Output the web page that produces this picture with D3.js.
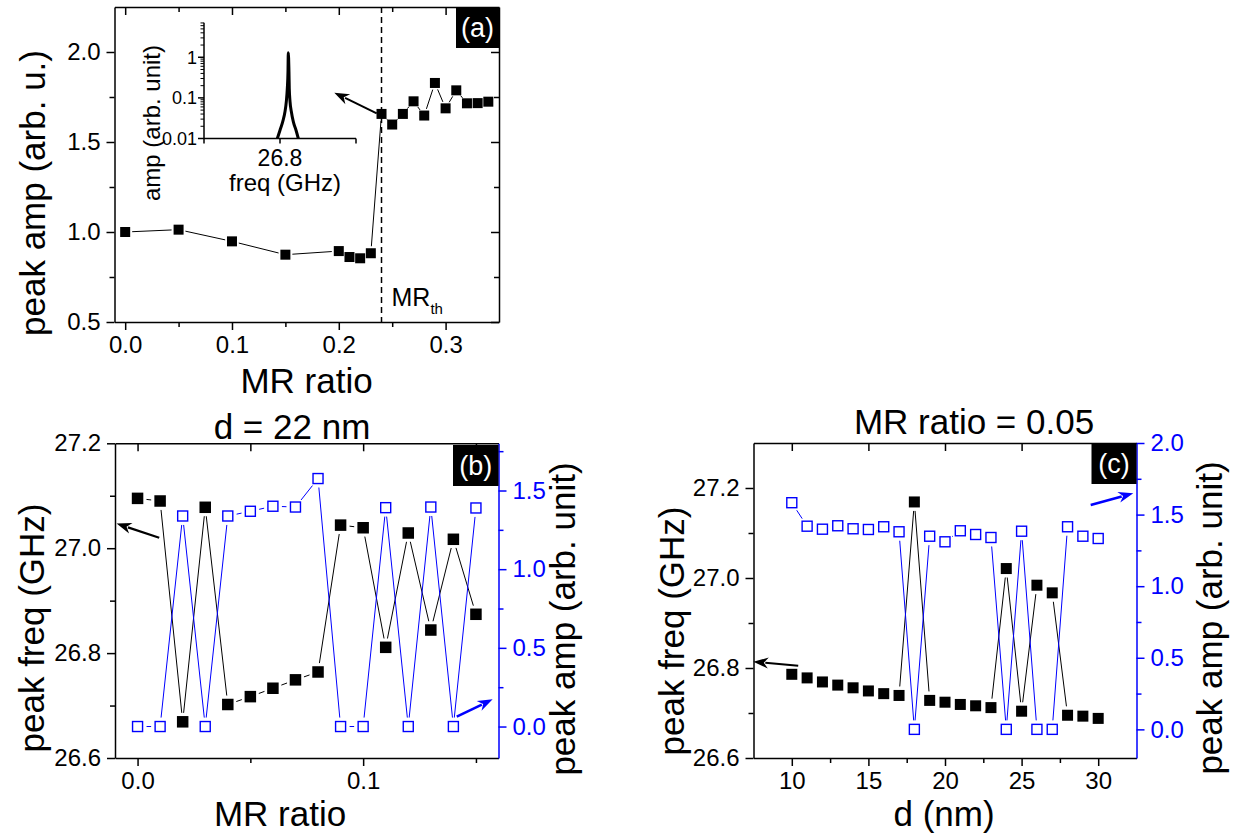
<!DOCTYPE html>
<html><head><meta charset="utf-8">
<script src="https://cdn.jsdelivr.net/npm/d3@7"></script>
<style>
body{margin:0;background:#fff}
text{font-family:"Liberation Sans",Arial,Helvetica,sans-serif}
</style>
</head><body>
<svg id="chart" width="1245" height="834" xmlns="http://www.w3.org/2000/svg"></svg>
<script>
// ---------------- DATA ----------------
// panel (a): peak amplitude vs MR ratio
const aMR  = [0, 0.05, 0.10, 0.15, 0.20, 0.21, 0.22, 0.23, 0.24, 0.25, 0.26, 0.27, 0.28, 0.29, 0.30, 0.31, 0.32, 0.33, 0.34];
const aAmp = [1.000, 1.013, 0.948, 0.874, 0.894, 0.861, 0.854, 0.882, 1.656, 1.597, 1.656, 1.726, 1.647, 1.828, 1.687, 1.787, 1.715, 1.716, 1.724];
const aThreshold = 0.24;
// inset of (a): spectrum
const insetFreq = [26.7965, 26.8000, 26.8036, 26.8066, 26.8083, 26.8096, 26.8105, 26.8109, 26.8118, 26.8122, 26.8132, 26.8149, 26.8175, 26.8211, 26.8241];
const insetAmp  = [0.010, 0.016, 0.026, 0.046, 0.081, 0.170, 0.440, 1.300, 0.440, 0.170, 0.081, 0.046, 0.026, 0.016, 0.010];
// panel (b): d = 22 nm
const bMR   = [0, 0.01, 0.02, 0.03, 0.04, 0.05, 0.06, 0.07, 0.08, 0.09, 0.10, 0.11, 0.12, 0.13, 0.14, 0.15];
const bFreq = [27.095, 27.090, 26.669, 27.078, 26.702, 26.717, 26.733, 26.749, 26.764, 27.044, 27.039, 26.811, 27.029, 26.844, 27.017, 26.874];
const bAmp  = [0.00, 0.00, 1.338, 0.00, 1.338, 1.368, 1.400, 1.395, 1.576, 0.00, 0.00, 1.391, 0.00, 1.395, 0.00, 1.389];
// panel (c): MR ratio = 0.05
const cD    = [10, 11, 12, 13, 14, 15, 16, 17, 18, 19, 20, 21, 22, 23, 24, 25, 26, 27, 28, 29, 30];
const cFreq = [26.786, 26.778, 26.769, 26.762, 26.756, 26.749, 26.743, 26.739, 27.169, 26.728, 26.724, 26.719, 26.716, 26.712, 27.021, 26.704, 26.984, 26.967, 26.695, 26.693, 26.688];
const cAmp  = [1.583, 1.419, 1.398, 1.422, 1.401, 1.396, 1.415, 1.380, 0.00, 1.349, 1.310, 1.387, 1.361, 1.340, 0.00, 1.384, 0.00, 0.00, 1.415, 1.349, 1.333];

// tick values / labels
const aXMajor = [0, 0.1, 0.2, 0.3], aXMinor = [0.05, 0.15, 0.25];
const aYMajor = [0.5, 1.0, 1.5, 2.0], aYMinor = [0.75, 1.25, 1.75];
const insetYMajor = [0.01, 0.1, 1], insetYLabels = ["0.01", "0.1", "1"];
const insetYMinor = [0.02,0.03,0.04,0.05,0.06,0.07,0.08,0.09,0.2,0.3,0.4,0.5,0.6,0.7,0.8,0.9,2,3,4,5,6,7];
const insetXTicks = [26.7, 26.8, 26.9], insetXLabel = "26.8";
const bXMajor = [0, 0.1], bXMinor = [0.05, 0.15];
const bYMajor = [26.6, 26.8, 27.0, 27.2], bYMinor = [26.7, 26.9, 27.1];
const bY2Major = [0, 0.5, 1.0, 1.5], bY2Minor = [0.25, 0.75, 1.25, 1.75];
const cXMajor = [10, 15, 20, 25, 30], cXMinor = [12.5, 17.5, 22.5, 27.5];
const cYMajor = [26.6, 26.8, 27.0, 27.2], cYMinor = [26.7, 26.9, 27.1];
const cY2Major = [0, 0.5, 1.0, 1.5, 2.0], cY2Minor = [0.25, 0.75, 1.25, 1.75];

// annotation arrows in data coordinates [x1,y1,x2,y2] (tail -> head)
const aArrow  = [0.2355, 1.659, 0.1958, 1.774];
const bArrowL = [0.0096, 27.020, -0.0093, 27.047];
const bArrowR = [0.1415, 0.0625, 0.1574, 0.173];
const cArrowL = [10.42, 26.805, 7.49, 26.814];
const cArrowR = [29.51, 1.567, 32.29, 1.649];

// ---------------- HELPERS ----------------
const BLUE = "#0000ff";
const svg = d3.select("#chart");
const f1 = d3.format(".1f");

function drawAxis(g, scale, orient, pos, major, minor, fmt, color, inward, labels) {
  const ax = {bottom: d3.axisBottom, top: d3.axisTop, left: d3.axisLeft, right: d3.axisRight}[orient];
  const s = inward ? -1 : 1;
  const tr = (orient === "bottom" || orient === "top") ? `translate(0,${pos})` : `translate(${pos},0)`;
  const gm = g.append("g").attr("transform", tr)
    .call(ax(scale).tickValues(major).tickSizeInner(8 * s).tickSizeOuter(0).tickPadding(6)
      .tickFormat(labels ? fmt : () => ""));
  gm.attr("font-family", null).attr("font-size", null);
  gm.select(".domain").attr("stroke", color).attr("stroke-width", 1.5);
  gm.selectAll(".tick line").attr("stroke", color).attr("stroke-width", 1.5);
  gm.selectAll(".tick text").attr("fill", color).style("font-size", "24px")
    .style("font-family", '"Liberation Sans",Arial,sans-serif');
  if (minor && minor.length) {
    const gn = g.append("g").attr("transform", tr)
      .call(ax(scale).tickValues(minor).tickSizeInner(5 * s).tickSizeOuter(0).tickFormat(() => ""));
    gn.select(".domain").remove();
    gn.selectAll(".tick line").attr("stroke", color).attr("stroke-width", 1.5);
  }
  return gm;
}

function gapLines(g, pts, gap, color) {
  for (let i = 0; i < pts.length - 1; i++) {
    const [x1, y1] = pts[i], [x2, y2] = pts[i + 1];
    const dx = x2 - x1, dy = y2 - y1, d = Math.hypot(dx, dy);
    if (d <= 2 * gap + 0.5) continue;
    const ux = dx / d, uy = dy / d;
    g.append("line")
      .attr("x1", x1 + ux * gap).attr("y1", y1 + uy * gap)
      .attr("x2", x2 - ux * gap).attr("y2", y2 - uy * gap)
      .attr("stroke", color).attr("stroke-width", 1);
  }
}

function squares(g, pts, size, filled, color) {
  g.selectAll(null).data(pts).enter().append("rect")
    .attr("x", d => d[0] - size / 2).attr("y", d => d[1] - size / 2)
    .attr("width", size).attr("height", size)
    .attr("fill", filled ? color : "#fff")
    .attr("stroke", color).attr("stroke-width", filled ? 0 : 1.4);
}

function arrow(g, x1, y1, x2, y2, color, w) {
  const dx = x2 - x1, dy = y2 - y1, d = Math.hypot(dx, dy);
  const ux = dx / d, uy = dy / d, L = 15, W = 5.5;
  g.append("line").attr("x1", x1).attr("y1", y1)
    .attr("x2", x2 - ux * L * 0.8).attr("y2", y2 - uy * L * 0.8)
    .attr("stroke", color).attr("stroke-width", w);
  const bx = x2 - ux * L, by = y2 - uy * L;
  g.append("path")
    .attr("d", `M${x2},${y2}L${bx - uy * W},${by + ux * W}L${x2 - ux * L * 0.7},${y2 - uy * L * 0.7}L${bx + uy * W},${by - ux * W}Z`)
    .attr("fill", color);
}

function labelBox(g, x, y, w, h, txt) {
  g.append("rect").attr("x", x).attr("y", y).attr("width", w).attr("height", h).attr("fill", "#000");
  g.append("text").attr("x", x + w / 2).attr("y", y + h / 2 + 9.5).attr("text-anchor", "middle")
    .attr("fill", "#fff").style("font-size", "27px").text(txt);
}

function vText(g, x, y, txt, size, color) {
  g.append("text").attr("transform", `translate(${x},${y}) rotate(-90)`)
    .attr("text-anchor", "middle").attr("fill", color || "#000")
    .style("font-size", size + "px").text(txt);
}

function hText(g, x, y, txt, size, anchor) {
  return g.append("text").attr("x", x).attr("y", y).attr("text-anchor", anchor || "middle")
    .style("font-size", size + "px").text(txt);
}

// ---------------- PANEL (a) ----------------
{
  const g = svg.append("g");
  const L = 114.5, R = 499, T = 7, B = 322;
  const x = d3.scaleLinear().domain([-0.01, 0.35]).range([L, R]);
  const y = d3.scaleLinear().domain([0.5, 2.25]).range([B, T]);

  // dashed threshold line
  g.append("line").attr("x1", x(aThreshold)).attr("x2", x(aThreshold)).attr("y1", T).attr("y2", B)
    .attr("stroke", "#000").attr("stroke-width", 1.5).attr("stroke-dasharray", "6,4");

  drawAxis(g, x, "bottom", B, aXMajor, aXMinor, f1, "#000", false, true);
  drawAxis(g, x, "top", T, aXMajor, aXMinor, f1, "#000", true, false);
  drawAxis(g, y, "left", L, aYMajor, aYMinor, f1, "#000", false, true);
  drawAxis(g, y, "right", R, aYMajor, aYMinor, f1, "#000", true, false);

  const pts = aMR.map((m, i) => [x(m), y(aAmp[i])]);
  gapLines(g, pts, 7, "#000");
  squares(g, pts, 10, true, "#000");

  arrow(g, x(aArrow[0]), y(aArrow[1]), x(aArrow[2]), y(aArrow[3]), "#000", 2);

  // MR_th
  const t = hText(g, 391.5, 306, "MR", 25, "start");
  t.append("tspan").attr("dy", 8).style("font-size", "15px").text("th");

  hText(g, 306.5, 393, "MR ratio", 35);
  vText(g, 45, 193, "peak amp (arb. u.)", 35);
  labelBox(g, 456, 7, 43, 41, "(a)");

  // inset
  const iL = 204, iR = 356, iT = 22.7, iB = 138.5;
  const ix = d3.scaleLinear().domain([26.7, 26.9]).range([iL, iR]);
  const iy = d3.scaleLog().domain([0.01, 7.1]).range([iB, iT]);
  const gi = g.append("g");
  gi.append("line").attr("x1", iL).attr("x2", iL).attr("y1", iT).attr("y2", iB).attr("stroke", "#000").attr("stroke-width", 1.5);
  gi.append("line").attr("x1", iL).attr("x2", iR).attr("y1", iB).attr("y2", iB).attr("stroke", "#000").attr("stroke-width", 1.5);
  insetYMajor.forEach((v, i) => {
    gi.append("line").attr("x1", iL - 6).attr("x2", iL).attr("y1", iy(v)).attr("y2", iy(v)).attr("stroke", "#000").attr("stroke-width", 1.5);
    gi.append("text").attr("x", iL - 7).attr("y", iy(v) + 6.5).attr("text-anchor", "end")
      .style("font-size", "18px").text(insetYLabels[i]);
  });
  insetYMinor.forEach(v => {
    gi.append("line").attr("x1", iL - 3.5).attr("x2", iL).attr("y1", iy(v)).attr("y2", iy(v)).attr("stroke", "#000").attr("stroke-width", 1);
  });
  insetXTicks.forEach(v => {
    gi.append("line").attr("x1", ix(v)).attr("x2", ix(v)).attr("y1", iB).attr("y2", iB + 5).attr("stroke", "#000").attr("stroke-width", 1.5);
  });
  hText(gi, ix(26.8), 166, insetXLabel, 23);
  hText(gi, 285, 191, "freq (GHz)", 24);
  vText(gi, 160, 123, "amp (arb. unit)", 24);
  const line = d3.line().x((d, i) => ix(insetFreq[i])).y((d, i) => iy(insetAmp[i])).curve(d3.curveMonotoneX);
  gi.append("path").attr("d", line(insetFreq)).attr("fill", "none").attr("stroke", "#000")
    .attr("stroke-width", 3).attr("stroke-linejoin", "round");
}

// ---------------- PANEL (b) ----------------
{
  const g = svg.append("g");
  const L = 115, R = 498.5, T = 443.3, B = 758;
  const x = d3.scaleLinear().domain([-0.01, 0.16]).range([L, R]);
  const y = d3.scaleLinear().domain([26.6, 27.2]).range([B, T]);
  const y2 = d3.scaleLinear().domain([-0.2, 1.8]).range([B, T]);

  drawAxis(g, x, "bottom", B, bXMajor, bXMinor, f1, "#000", false, true);
  drawAxis(g, x, "top", T, bXMajor.concat(bXMinor), [], f1, "#000", true, false);
  drawAxis(g, y, "left", L, bYMajor, bYMinor, f1, "#000", false, true);
  drawAxis(g, y2, "right", R, bY2Major, bY2Minor, f1, BLUE, false, true);

  const pf = bMR.map((m, i) => [x(m), y(bFreq[i])]);
  const pa = bMR.map((m, i) => [x(m), y2(bAmp[i])]);
  gapLines(g, pf, 9, "#000");
  gapLines(g, pa, 9, BLUE);
  squares(g, pf, 11.5, true, "#000");
  squares(g, pa, 10, false, BLUE);

  arrow(g, x(bArrowL[0]), y(bArrowL[1]), x(bArrowL[2]), y(bArrowL[3]), "#000", 2.2);
  arrow(g, x(bArrowR[0]), y2(bArrowR[1]), x(bArrowR[2]), y2(bArrowR[3]), BLUE, 2.5);

  hText(g, 292, 439, "d = 22 nm", 35);
  hText(g, 280, 826, "MR ratio", 35);
  vText(g, 44, 628, "peak freq (GHz)", 35);
  vText(g, 575, 619, "peak amp (arb. unit)", 35);
  labelBox(g, 453, 445, 45.5, 41, "(b)");
}

// ---------------- PANEL (c) ----------------
{
  const g = svg.append("g");
  const L = 753.5, R = 1136.5, T = 443, B = 758;
  const x = d3.scaleLinear().domain([7.5, 32.5]).range([L, R]);
  const y = d3.scaleLinear().domain([26.6, 27.3]).range([B, T]);
  const y2 = d3.scaleLinear().domain([-0.2, 2.0]).range([B, T]);
  const fd = d3.format("d");

  drawAxis(g, x, "bottom", B, cXMajor, cXMinor, fd, "#000", false, true);
  drawAxis(g, x, "top", T, cXMajor, [], fd, "#000", true, false);
  drawAxis(g, y, "left", L, cYMajor, cYMinor, f1, "#000", false, true);
  drawAxis(g, y2, "right", R, cY2Major, cY2Minor, f1, BLUE, false, true);

  const pf = cD.map((d, i) => [x(d), y(cFreq[i])]);
  const pa = cD.map((d, i) => [x(d), y2(cAmp[i])]);
  gapLines(g, pf, 9, "#000");
  gapLines(g, pa, 9, BLUE);
  squares(g, pf, 11, true, "#000");
  squares(g, pa, 10, false, BLUE);

  arrow(g, x(cArrowL[0]), y(cArrowL[1]), x(cArrowL[2]), y(cArrowL[3]), "#000", 2.2);
  arrow(g, x(cArrowR[0]), y2(cArrowR[1]), x(cArrowR[2]), y2(cArrowR[3]), BLUE, 2.5);

  hText(g, 974, 434, "MR ratio = 0.05", 35);
  hText(g, 944, 826, "d (nm)", 35);
  vText(g, 684, 631, "peak freq (GHz)", 35);
  vText(g, 1222, 618, "peak amp (arb. unit)", 35);
  labelBox(g, 1091.5, 443, 45, 41, "(c)");
}
</script>
</body></html>
